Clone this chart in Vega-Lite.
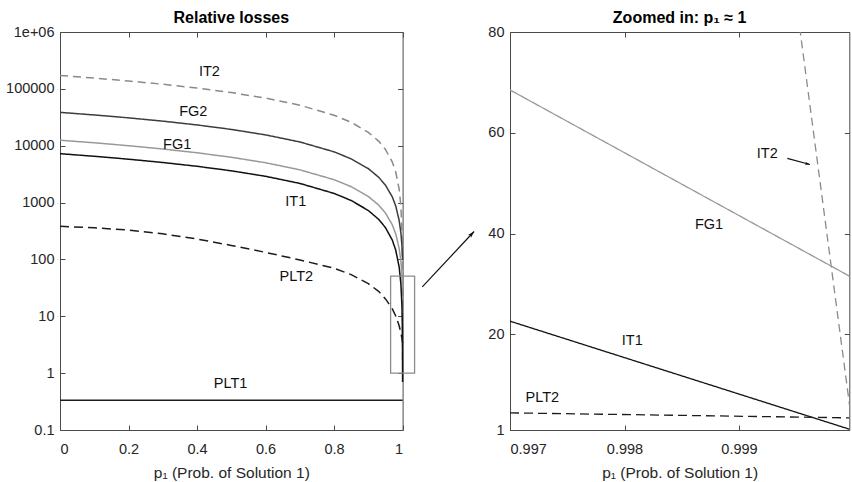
{
  "$schema": "https://vega.github.io/schema/vega-lite/v6.json",
  "description": "Relative losses versus p1 on a log scale, and a zoomed linear view near p1 = 1.",
  "padding": {"left": 5, "top": 9, "right": 0, "bottom": 0},
  "bounds": "flush",
  "spacing": 107,
  "datasets": {
    "curves": [
      {"series": "IT2", "p": 0, "v": 172000},
      {"series": "IT2", "p": 0.1, "v": 154800},
      {"series": "IT2", "p": 0.2, "v": 137600},
      {"series": "IT2", "p": 0.3, "v": 120400},
      {"series": "IT2", "p": 0.4, "v": 103200},
      {"series": "IT2", "p": 0.5, "v": 86000},
      {"series": "IT2", "p": 0.6, "v": 68800},
      {"series": "IT2", "p": 0.7, "v": 51600},
      {"series": "IT2", "p": 0.8, "v": 34400},
      {"series": "IT2", "p": 0.85, "v": 25800},
      {"series": "IT2", "p": 0.9, "v": 17200},
      {"series": "IT2", "p": 0.93, "v": 12040},
      {"series": "IT2", "p": 0.95, "v": 8600},
      {"series": "IT2", "p": 0.97, "v": 5160},
      {"series": "IT2", "p": 0.98, "v": 3440},
      {"series": "IT2", "p": 0.99, "v": 1720},
      {"series": "IT2", "p": 0.995, "v": 860},
      {"series": "IT2", "p": 0.998, "v": 344},
      {"series": "IT2", "p": 0.999, "v": 172},
      {"series": "IT2", "p": 0.9995, "v": 86},
      {"series": "IT2", "p": 0.9999, "v": 17.2},
      {"series": "IT2", "p": 0.99999, "v": 1.7},
      {"series": "FG2", "p": 0, "v": 38600},
      {"series": "FG2", "p": 0.1, "v": 34750},
      {"series": "FG2", "p": 0.2, "v": 30900},
      {"series": "FG2", "p": 0.3, "v": 27050},
      {"series": "FG2", "p": 0.4, "v": 23200},
      {"series": "FG2", "p": 0.5, "v": 19350},
      {"series": "FG2", "p": 0.6, "v": 15500},
      {"series": "FG2", "p": 0.7, "v": 11650},
      {"series": "FG2", "p": 0.8, "v": 7800},
      {"series": "FG2", "p": 0.85, "v": 5875},
      {"series": "FG2", "p": 0.9, "v": 3950},
      {"series": "FG2", "p": 0.93, "v": 2795},
      {"series": "FG2", "p": 0.95, "v": 2025},
      {"series": "FG2", "p": 0.97, "v": 1255},
      {"series": "FG2", "p": 0.98, "v": 870},
      {"series": "FG2", "p": 0.99, "v": 485},
      {"series": "FG2", "p": 0.995, "v": 292.5},
      {"series": "FG2", "p": 0.998, "v": 177},
      {"series": "FG2", "p": 0.999, "v": 138.5},
      {"series": "FG2", "p": 0.9995, "v": 119},
      {"series": "FG2", "p": 1, "v": 100},
      {"series": "FG1", "p": 0, "v": 12501},
      {"series": "FG1", "p": 0.1, "v": 11254},
      {"series": "FG1", "p": 0.2, "v": 10007},
      {"series": "FG1", "p": 0.3, "v": 8760},
      {"series": "FG1", "p": 0.4, "v": 7513},
      {"series": "FG1", "p": 0.5, "v": 6266},
      {"series": "FG1", "p": 0.6, "v": 5019},
      {"series": "FG1", "p": 0.7, "v": 3772},
      {"series": "FG1", "p": 0.8, "v": 2525},
      {"series": "FG1", "p": 0.85, "v": 1901.5},
      {"series": "FG1", "p": 0.9, "v": 1278},
      {"series": "FG1", "p": 0.93, "v": 903.9},
      {"series": "FG1", "p": 0.95, "v": 654.5},
      {"series": "FG1", "p": 0.97, "v": 405.1},
      {"series": "FG1", "p": 0.98, "v": 280.4},
      {"series": "FG1", "p": 0.99, "v": 155.7},
      {"series": "FG1", "p": 0.995, "v": 93.35},
      {"series": "FG1", "p": 0.998, "v": 55.94},
      {"series": "FG1", "p": 0.999, "v": 43.47},
      {"series": "FG1", "p": 0.9995, "v": 37.2},
      {"series": "FG1", "p": 1, "v": 31},
      {"series": "IT1", "p": 0, "v": 7241},
      {"series": "IT1", "p": 0.1, "v": 6517},
      {"series": "IT1", "p": 0.2, "v": 5793},
      {"series": "IT1", "p": 0.3, "v": 5069},
      {"series": "IT1", "p": 0.4, "v": 4345},
      {"series": "IT1", "p": 0.5, "v": 3621},
      {"series": "IT1", "p": 0.6, "v": 2897},
      {"series": "IT1", "p": 0.7, "v": 2173},
      {"series": "IT1", "p": 0.8, "v": 1449},
      {"series": "IT1", "p": 0.85, "v": 1087},
      {"series": "IT1", "p": 0.9, "v": 725},
      {"series": "IT1", "p": 0.93, "v": 507.7},
      {"series": "IT1", "p": 0.95, "v": 362.9},
      {"series": "IT1", "p": 0.97, "v": 218.1},
      {"series": "IT1", "p": 0.98, "v": 145.7},
      {"series": "IT1", "p": 0.99, "v": 73.3},
      {"series": "IT1", "p": 0.995, "v": 37.1},
      {"series": "IT1", "p": 0.998, "v": 15.38},
      {"series": "IT1", "p": 0.999, "v": 8.14},
      {"series": "IT1", "p": 0.9995, "v": 4.52},
      {"series": "IT1", "p": 1, "v": 0.7},
      {"series": "PLT2", "p": 0, "v": 382},
      {"series": "PLT2", "p": 0.1, "v": 360},
      {"series": "PLT2", "p": 0.2, "v": 328},
      {"series": "PLT2", "p": 0.3, "v": 282},
      {"series": "PLT2", "p": 0.4, "v": 229},
      {"series": "PLT2", "p": 0.5, "v": 176},
      {"series": "PLT2", "p": 0.6, "v": 133},
      {"series": "PLT2", "p": 0.7, "v": 98},
      {"series": "PLT2", "p": 0.8, "v": 70},
      {"series": "PLT2", "p": 0.85, "v": 54},
      {"series": "PLT2", "p": 0.9, "v": 37.5},
      {"series": "PLT2", "p": 0.93, "v": 27.5},
      {"series": "PLT2", "p": 0.95, "v": 20.2},
      {"series": "PLT2", "p": 0.97, "v": 13.5},
      {"series": "PLT2", "p": 0.98, "v": 10.1},
      {"series": "PLT2", "p": 0.99, "v": 6.8},
      {"series": "PLT2", "p": 0.995, "v": 5.1},
      {"series": "PLT2", "p": 0.998, "v": 4.07},
      {"series": "PLT2", "p": 0.999, "v": 3.74},
      {"series": "PLT2", "p": 0.9995, "v": 3.57},
      {"series": "PLT2", "p": 1, "v": 3.4},
      {"series": "PLT1", "p": 0, "v": 0.333},
      {"series": "PLT1", "p": 1, "v": 0.333}
    ],
    "zoom": [
      {"series": "IT2", "p": 0.9995, "v": 86},
      {"series": "IT2", "p": 1, "v": 0},
      {"series": "FG1", "p": 0.997, "v": 68.5},
      {"series": "FG1", "p": 1, "v": 31.1},
      {"series": "IT1", "p": 0.997, "v": 22.6},
      {"series": "IT1", "p": 1, "v": 0.9},
      {"series": "PLT2", "p": 0.997, "v": 4.4},
      {"series": "PLT2", "p": 1, "v": 3.4}
    ],
    "labels": [
      {"text": "IT2", "p": 0.436, "v": 197000},
      {"text": "FG2", "p": 0.389, "v": 39000},
      {"text": "FG1", "p": 0.342, "v": 10300},
      {"text": "IT1", "p": 0.688, "v": 1040},
      {"text": "PLT2", "p": 0.69, "v": 50},
      {"text": "PLT1", "p": 0.498, "v": 0.65}
    ],
    "zoomLabels": [
      {"text": "IT2", "p": 0.999247, "v": 55.7},
      {"text": "FG1", "p": 0.998738, "v": 41.6},
      {"text": "IT1", "p": 0.998068, "v": 18.7},
      {"text": "PLT2", "p": 0.997282, "v": 7.3}
    ],
    "box": [
      {"p": 0.965, "p2": 1.035, "v": 1, "v2": 51}
    ],
    "arrows": [
      {"name": "zoom", "p": 0.996234, "v": 29.4, "p2": 0.996686, "v2": 40.4, "angle": 43, "size": 70},
      {"name": "IT2", "p": 0.999422, "v": 54.9, "p2": 0.99962, "v2": 53.7, "angle": 104, "size": 40}
    ]
  },
  "hconcat": [
    {
      "title": "Relative losses",
      "width": 342.6,
      "height": 398,
      "layer": [
        {
          "data": {"name": "curves"},
          "mark": {"type": "line", "strokeWidth": 1.5},
          "encoding": {
            "x": {
              "field": "p", "type": "quantitative",
              "scale": {"domain": [0, 1], "nice": false, "zero": false},
              "axis": {"orient": "bottom", "values": [0, 0.2, 0.4, 0.6, 0.8, 1], "format": "~g", "title": "p₁ (Prob. of Solution 1)"}
            },
            "y": {
              "field": "v", "type": "quantitative",
              "scale": {"type": "log", "domain": [0.1, 1000000], "nice": false},
              "axis": {
                "orient": "left", "title": null,
                "values": [0.1, 1, 10, 100, 1000, 10000, 100000, 1000000],
                "labelExpr": "datum.value < 1 ? '0.1' : datum.value >= 1000000 ? '1e+06' : format(datum.value, 'd')"
              }
            },
            "detail": {"field": "series"},
            "color": {
              "field": "series", "type": "nominal", "legend": null,
              "scale": {"domain": ["IT2", "FG2", "FG1", "IT1", "PLT2", "PLT1"], "range": ["#8a8a8a", "#3c3c3c", "#999999", "#111111", "#1c1c1c", "#1c1c1c"]}
            },
            "strokeDash": {
              "field": "series", "type": "nominal", "legend": null,
              "scale": {"domain": ["IT2", "FG2", "FG1", "IT1", "PLT2", "PLT1"], "range": [[8, 5], [1, 0], [1, 0], [1, 0], [9, 5], [1, 0]]}
            }
          }
        },
        {
          "data": {"name": "box"},
          "mark": {"type": "rect", "fillOpacity": 0, "stroke": "#8c8c8c", "strokeWidth": 1.3},
          "encoding": {
            "x": {"field": "p", "type": "quantitative", "axis": null},
            "x2": {"field": "p2"},
            "y": {"field": "v", "type": "quantitative", "axis": null},
            "y2": {"field": "v2"}
          }
        },
        {
          "data": {"name": "labels"},
          "mark": {"type": "text", "fontSize": 14.5, "color": "#111111"},
          "encoding": {
            "x": {"field": "p", "type": "quantitative", "axis": null},
            "y": {"field": "v", "type": "quantitative", "axis": null},
            "text": {"field": "text"}
          }
        },
        {
          "data": {"name": "curves"},
          "mark": {"type": "point", "opacity": 0, "clip": true},
          "encoding": {
            "x": {"field": "p", "type": "quantitative", "axis": {"orient": "top", "values": [0, 0.2, 0.4, 0.6, 0.8, 1], "labels": false, "title": null}},
            "y": {"field": "v", "type": "quantitative", "axis": {"orient": "right", "values": [0.1, 1, 10, 100, 1000, 10000, 100000, 1000000], "labels": false, "title": null}}
          }
        }
      ],
      "resolve": {"axis": {"x": "independent", "y": "independent"}}
    },
    {
      "title": "Zoomed in: p₁ ≈ 1",
      "width": 339.3,
      "height": 398,
      "layer": [
        {
          "data": {"name": "zoom"},
          "mark": {"type": "line", "strokeWidth": 1.3, "clip": true},
          "encoding": {
            "x": {
              "field": "p", "type": "quantitative",
              "scale": {"domain": [0.997, 0.9999633], "nice": false, "zero": false},
              "axis": {"orient": "bottom", "values": [0.997, 0.998, 0.999], "format": ".3f", "title": "p₁ (Prob. of Solution 1)"}
            },
            "y": {
              "field": "v", "type": "quantitative",
              "scale": {"domain": [1, 80], "nice": false, "zero": false},
              "axis": {"orient": "left", "title": null, "values": [1, 20, 40, 60, 80]}
            },
            "detail": {"field": "series"},
            "color": {
              "field": "series", "type": "nominal", "legend": null,
              "scale": {"domain": ["IT2", "FG1", "IT1", "PLT2"], "range": ["#8a8a8a", "#8a8a8a", "#333333", "#444444"]}
            },
            "strokeDash": {
              "field": "series", "type": "nominal", "legend": null,
              "scale": {"domain": ["IT2", "FG1", "IT1", "PLT2"], "range": [[10, 6], [1, 0], [1, 0], [10, 6]]}
            }
          }
        },
        {
          "data": {"name": "zoomLabels"},
          "mark": {"type": "text", "fontSize": 14.5, "color": "#111111"},
          "encoding": {
            "x": {"field": "p", "type": "quantitative", "axis": null},
            "y": {"field": "v", "type": "quantitative", "axis": null},
            "text": {"field": "text"}
          }
        },
        {
          "data": {"name": "arrows"},
          "mark": {"type": "rule", "color": "#111111", "strokeWidth": 1.2},
          "encoding": {
            "x": {"field": "p", "type": "quantitative", "axis": null},
            "x2": {"field": "p2"},
            "y": {"field": "v", "type": "quantitative", "axis": null},
            "y2": {"field": "v2"}
          }
        },
        {
          "data": {"name": "arrows"},
          "mark": {"type": "point", "shape": "M0,0L0.5,1.6L0,1.2L-0.5,1.6Z", "filled": true, "color": "#111111", "opacity": 1},
          "encoding": {
            "x": {"field": "p2", "type": "quantitative", "axis": null},
            "y": {"field": "v2", "type": "quantitative", "axis": null},
            "angle": {"field": "angle", "type": "quantitative", "scale": null},
            "size": {"field": "size", "type": "quantitative", "scale": null}
          }
        },
        {
          "data": {"name": "zoom"},
          "mark": {"type": "point", "opacity": 0, "clip": true},
          "encoding": {
            "x": {"field": "p", "type": "quantitative", "axis": {"orient": "top", "values": [0.997, 0.998, 0.999], "labels": false, "title": null}},
            "y": {"field": "v", "type": "quantitative", "axis": {"orient": "right", "values": [1, 20, 40, 60, 80], "labels": false, "title": null}}
          }
        }
      ],
      "resolve": {"axis": {"x": "independent", "y": "independent"}}
    }
  ],
  "config": {
    "font": "Liberation Sans",
    "view": {"stroke": "#4a4a4a", "strokeWidth": 1},
    "title": {"fontSize": 16, "fontWeight": "bold", "color": "#000000", "offset": -2, "anchor": "middle"},
    "axis": {
      "grid": false,
      "domain": false,
      "ticks": true,
      "tickSize": -5,
      "tickColor": "#4a4a4a",
      "labelFontSize": 14.5,
      "labelColor": "#262626",
      "titleFontSize": 15.5,
      "titleFontWeight": "normal",
      "titleColor": "#262626"
    },
    "axisX": {"labelPadding": 17, "titlePadding": 10},
    "axisY": {"labelPadding": 11}
  }
}
